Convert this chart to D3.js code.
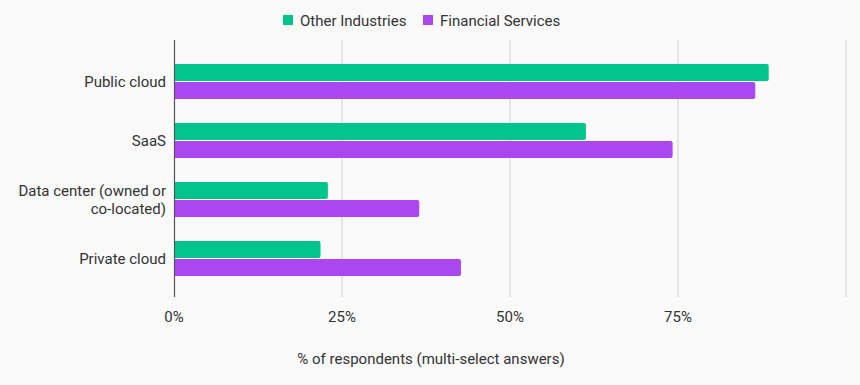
<!DOCTYPE html>
<html>
<head>
<meta charset="utf-8">
<script src="https://cdn.jsdelivr.net/npm/d3@7"></script>
<style>
  body { margin: 0; background: #fafafa; }
  svg { display: block; font-family: Roboto, sans-serif; }
</style>
</head>
<body>
<svg id="chart" width="860" height="385"></svg>
<script>
var categories = ["Public cloud", "SaaS", "Data center (owned or co-located)", "Private cloud"];
var categoryLines = [["Public cloud"], ["SaaS"], ["Data center (owned or", "co-located)"], ["Private cloud"]];
var seriesNames = ["Other Industries", "Financial Services"];
var otherIndustries = [88.5, 61.3, 22.9, 21.8];
var financialServices = [86.5, 74.2, 36.5, 42.7];
var xTicks = [0, 25, 50, 75, 100];
var colors = ["#02c58e", "#ab47f0"];

var svg = d3.select("#chart");
svg.append("rect").attr("width", 860).attr("height", 385).attr("fill", "#fafafa");

var x = d3.scaleLinear().domain([0, 100]).range([174, 846]);
var y = d3.scaleBand().domain(categories).range([52, 288]);
var inner = d3.scaleBand().domain(seriesNames).range([y.bandwidth() / 2 - 17.5, y.bandwidth() / 2 + 17.5]).paddingInner(0.06);

// gridlines
svg.append("g").selectAll("line")
  .data(xTicks.slice(1))
  .enter().append("line")
  .attr("x1", function (d) { return x(d); })
  .attr("x2", function (d) { return x(d); })
  .attr("y1", 40).attr("y2", 297)
  .attr("stroke", "#d0d0d0").attr("stroke-width", 1);

var series = [otherIndustries, financialServices];
var rows = [];
categories.forEach(function (c, i) {
  seriesNames.forEach(function (s, j) {
    rows.push({cat: c, name: s, value: series[j][i], color: colors[j]});
  });
});

function barPath(d) {
  var x0 = x(0), x1 = x(d.value), y0 = y(d.cat) + inner(d.name), h = inner.bandwidth(), r = 2;
  return "M" + x0 + "," + y0 + "H" + (x1 - r) + "Q" + x1 + "," + y0 + " " + x1 + "," + (y0 + r) +
    "V" + (y0 + h - r) + "Q" + x1 + "," + (y0 + h) + " " + (x1 - r) + "," + (y0 + h) + "H" + x0 + "Z";
}

svg.append("g").selectAll("path")
  .data(rows)
  .enter().append("path")
  .attr("d", barPath)
  .attr("fill", function (d) { return d.color; });

// zero axis line
svg.append("line")
  .attr("x1", x(0) + 0.5).attr("x2", x(0) + 0.5)
  .attr("y1", 40).attr("y2", 297)
  .attr("stroke", "#555").attr("stroke-width", 1.2);

// x tick labels
svg.append("g").selectAll("text")
  .data(xTicks.slice(0, 4))
  .enter().append("text")
  .attr("x", function (d) { return x(d); })
  .attr("y", 322)
  .attr("text-anchor", "middle")
  .attr("font-size", 15)
  .attr("fill", "#333")
  .text(function (d) { return d + "%"; });

// category labels
var lab = svg.append("g").selectAll("text")
  .data(categories)
  .enter().append("text")
  .attr("text-anchor", "end")
  .attr("font-size", 15)
  .attr("fill", "#333");
lab.each(function (c, i) {
  var lines = categoryLines[i];
  var cy = y(c) + y.bandwidth() / 2;
  var t = d3.select(this);
  lines.forEach(function (l, k) {
    t.append("tspan")
      .attr("x", 166)
      .attr("y", cy + 5.5 + (k - (lines.length - 1) / 2) * 18.5)
      .text(l);
  });
});

// axis title
svg.append("text")
  .attr("x", 431).attr("y", 364)
  .attr("text-anchor", "middle")
  .attr("font-size", 15)
  .attr("fill", "#333")
  .text("% of respondents (multi-select answers)");

// legend
var legendX = [283, 423];
var leg = svg.append("g").selectAll("g")
  .data(seriesNames)
  .enter().append("g")
  .attr("transform", function (d, i) { return "translate(" + legendX[i] + ",15)"; });
leg.append("rect").attr("width", 10).attr("height", 10)
  .attr("fill", function (d, i) { return colors[i]; });
leg.append("text").attr("x", 17).attr("y", 10.5)
  .attr("font-size", 15).attr("fill", "#333")
  .text(function (d) { return d; });
</script>
</body>
</html>
